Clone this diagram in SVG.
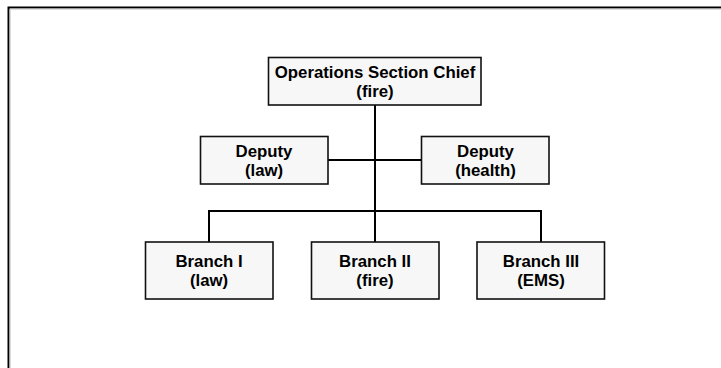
<svg xmlns="http://www.w3.org/2000/svg" width="721" height="368" viewBox="0 0 721 368">
  <style>
    .box { fill: #f7f7f7; stroke: #111; stroke-width: 1.6; }
    .lbl { font-family: "Liberation Sans", Arial, sans-serif; font-weight: bold; font-size: 16.8px; fill: #000; text-anchor: middle; }
    .wire { fill: none; stroke: #000; stroke-width: 2; }
    .frame { fill: none; stroke: #000; stroke-width: 2; }
  </style>
  <rect width="721" height="368" fill="#fff"/>
  <!-- page frame (top and left edges) -->
  <path class="frame" d="M8.5,368 V7.5 H721"/>
  <path d="M10,368 V9 H721" fill="none" stroke="#bbb" stroke-width="1"/>

  <g id="connectors">
    <path class="wire" d="M375,105 V211"/>
    <path class="wire" d="M328,160 H422"/>
    <path class="wire" d="M209,242 V211 H541 V242"/>
    <path class="wire" d="M375,211 V242"/>
  </g>

  <g id="chief">
    <rect class="box" x="268.5" y="57.5" width="212.5" height="47.5"/>
    <text class="lbl" x="375" y="78">Operations Section Chief</text>
    <text class="lbl" x="375" y="97">(fire)</text>
  </g>

  <g id="deputy-law">
    <rect class="box" x="200.5" y="136.5" width="127.5" height="47.5"/>
    <text class="lbl" x="264" y="157">Deputy</text>
    <text class="lbl" x="264" y="176">(law)</text>
  </g>

  <g id="deputy-health">
    <rect class="box" x="421.5" y="136.5" width="127.5" height="47.5"/>
    <text class="lbl" x="485.5" y="157">Deputy</text>
    <text class="lbl" x="485.5" y="176">(health)</text>
  </g>

  <g id="branch-1">
    <rect class="box" x="145.5" y="242" width="127.5" height="57"/>
    <text class="lbl" x="209" y="267">Branch I</text>
    <text class="lbl" x="209" y="286">(law)</text>
  </g>

  <g id="branch-2">
    <rect class="box" x="311.5" y="242" width="127.5" height="57"/>
    <text class="lbl" x="375" y="267">Branch II</text>
    <text class="lbl" x="375" y="286">(fire)</text>
  </g>

  <g id="branch-3">
    <rect class="box" x="477" y="242" width="127.5" height="57"/>
    <text class="lbl" x="541" y="267">Branch III</text>
    <text class="lbl" x="541" y="286">(EMS)</text>
  </g>
</svg>
